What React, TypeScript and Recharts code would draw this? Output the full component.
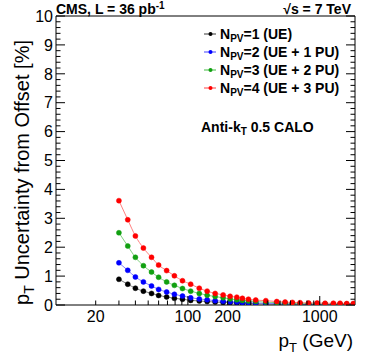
import { Line, LineChart, XAxis, YAxis } from "recharts";

// jet pT bin centres (GeV)
const PT = [
  30, 35, 40, 46, 53, 60, 69, 79, 91, 105, 122, 140, 161, 185, 209, 235, 259,
  288, 327, 390, 472, 546, 620, 709, 822, 954, 1097, 1268, 1425, 1601, 1797,
];

// offset uncertainty in %
const NPV1 = [
  0.89, 0.72, 0.58, 0.48, 0.4, 0.33, 0.28, 0.23, 0.2, 0.16, 0.14, 0.12, 0.1,
  0.09, 0.08, 0.07, 0.06, 0.05, 0.05, 0.04, 0.03, 0.03, 0.03, 0.02, 0.02, 0.02,
  0.02, 0.01, 0.01, 0.01, 0.01,
];
const NPV2 = [
  1.46, 1.2, 0.97, 0.8, 0.66, 0.54, 0.45, 0.37, 0.31, 0.25, 0.21, 0.18, 0.15,
  0.13, 0.11, 0.1, 0.09, 0.08, 0.07, 0.06, 0.05, 0.04, 0.04, 0.03, 0.03, 0.03,
  0.02, 0.02, 0.02, 0.02, 0.02,
];
const NPV3 = [
  2.5, 2.04, 1.65, 1.36, 1.14, 0.96, 0.8, 0.68, 0.57, 0.48, 0.4, 0.34, 0.29,
  0.25, 0.21, 0.18, 0.16, 0.14, 0.12, 0.1, 0.08, 0.07, 0.06, 0.05, 0.05, 0.04,
  0.04, 0.03, 0.03, 0.03, 0.03,
];
const NPV4 = [
  3.61, 2.95, 2.39, 1.97, 1.65, 1.38, 1.19, 1.01, 0.84, 0.72, 0.58, 0.48, 0.4,
  0.35, 0.3, 0.27, 0.23, 0.2, 0.17, 0.15, 0.12, 0.1, 0.09, 0.08, 0.07, 0.07,
  0.06, 0.06, 0.06, 0.05, 0.05,
];

const SERIES = [
  { key: "npv1", n: "1", tail: " (UE)", marker: "#000000", line: "#7a7a7a", vals: NPV1 },
  { key: "npv2", n: "2", tail: " (UE + 1 PU)", marker: "#0000ff", line: "#8080ff", vals: NPV2 },
  { key: "npv3", n: "3", tail: " (UE + 2 PU)", marker: "#11a011", line: "#80d080", vals: NPV3 },
  { key: "npv4", n: "4", tail: " (UE + 3 PU)", marker: "#ff0000", line: "#ff8080", vals: NPV4 },
];

const X_TICKS = [20, 30, 40, 50, 60, 70, 80, 90, 100, 200, 300, 400, 500, 600, 700, 800, 900, 1000];
const X_LABELS = [20, 100, 200, 1000];
const X_MAJOR = [100, 1000];
const Y_LABELS = [0, 1, 2, 3, 4, 5, 6, 7, 8, 9, 10];
const Y_TICKS = Array.from({ length: 51 }, (_, i) => Math.round(i * 2) / 10);

const FONT = '"Liberation Sans", Arial, Helvetica, sans-serif';

const rows = PT.map((pt, i) => {
  const r: Record<string, number> = { pt };
  SERIES.forEach((s) => (r[s.key] = s.vals[i]));
  return r;
});

const isInt = (v: number) => Math.abs(v - Math.round(v)) < 1e-6;

function XTick({ x, y, payload, top }: any) {
  const v = payload.value as number;
  const len = X_MAJOR.includes(v) ? 9 : 4.5;
  const dir = top ? 1 : -1;
  return (
    <g>
      <line x1={x} x2={x} y1={y} y2={y + dir * len} stroke="#000" />
      {!top && X_LABELS.includes(v) && (
        <text x={x} y={y + 17} textAnchor="middle" fontSize={16} fontFamily={FONT} fill="#000">
          {v}
        </text>
      )}
    </g>
  );
}

function YTick({ x, y, payload, right }: any) {
  const v = payload.value as number;
  const major = isInt(v);
  const len = major ? 9 : 4.5;
  const dir = right ? -1 : 1;
  return (
    <g>
      <line x1={x} x2={x + dir * len} y1={y} y2={y} stroke="#000" />
      {!right && major && Y_LABELS.includes(Math.round(v)) && (
        <text x={x - 3} y={y} dy="0.36em" textAnchor="end" fontSize={16} fontFamily={FONT} fill="#000">
          {Math.round(v)}
        </text>
      )}
    </g>
  );
}

const axisCommon = {
  tickSize: 0,
  tickMargin: 0,
  tickLine: false,
  interval: 0 as const,
  allowDataOverflow: true,
  axisLine: { stroke: "#000" },
};

export default function App() {
  return (
    <div style={{ position: "absolute", left: 0, top: 0, width: 374, height: 359, background: "#fff" }}>
      <LineChart width={374} height={359} data={rows} margin={{ top: 0, right: 0, bottom: 0, left: 0 }}>
        <XAxis
          {...axisCommon}
          xAxisId="b"
          dataKey="pt"
          type="number"
          scale="log"
          domain={[10, 1850]}
          ticks={X_TICKS}
          height={54}
          tick={<XTick />}
        />
        <XAxis
          {...axisCommon}
          xAxisId="t"
          orientation="top"
          type="number"
          scale="log"
          domain={[10, 1850]}
          ticks={X_TICKS}
          height={16}
          tick={<XTick top />}
        />
        <YAxis
          {...axisCommon}
          yAxisId="l"
          type="number"
          domain={[0, 10]}
          ticks={Y_TICKS}
          width={56}
          tick={<YTick />}
        />
        <YAxis
          {...axisCommon}
          yAxisId="r"
          orientation="right"
          type="number"
          domain={[0, 10]}
          ticks={Y_TICKS}
          width={19}
          tick={<YTick right />}
        />
        {SERIES.map((s) => (
          <Line
            key={s.key}
            xAxisId="b"
            yAxisId="l"
            dataKey={s.key}
            type="monotone"
            stroke={s.line}
            strokeWidth={1}
            dot={{ r: 2.5, fill: s.marker, stroke: s.marker, strokeWidth: 0.5 }}
            activeDot={false}
            isAnimationActive={false}
          />
        ))}
      </LineChart>
      <svg
        width={374}
        height={359}
        style={{ position: "absolute", left: 0, top: 0, pointerEvents: "none" }}
        fontFamily={FONT}
      >
        <text x={56} y={14} fontSize={14} fontWeight="bold">
          CMS, L = 36 pb
          <tspan fontSize={10} dy={-5}>-1</tspan>
        </text>
        <text x={351} y={14} fontSize={14} fontWeight="bold" textAnchor="end">
          √s = 7 TeV
        </text>
        {SERIES.map((s, i) => {
          const cy = 34 + i * 18;
          return (
            <g key={s.key}>
              <line x1={204} x2={216} y1={cy} y2={cy} stroke={s.line} strokeWidth={1.5} />
              <circle cx={210.5} cy={cy} r={2} fill={s.marker} />
              <text x={220} y={cy + 5} fontSize={14} fontWeight="bold">
                N
                <tspan fontSize={10} dy={3}>PV</tspan>
                <tspan dy={-3}>{"=" + s.n + s.tail}</tspan>
              </text>
            </g>
          );
        })}
        <text x={201} y={132} fontSize={14} fontWeight="bold">
          Anti-k
          <tspan fontSize={10} dy={3}>T</tspan>
          <tspan dy={-3}> 0.5 CALO</tspan>
        </text>
        <text x={353} y={347} fontSize={19} textAnchor="end">
          p
          <tspan fontSize={13} dy={5}>T</tspan>
          <tspan dy={-5}> (GeV)</tspan>
        </text>
        <text transform="translate(29,40) rotate(-90)" fontSize={20} textAnchor="end">
          p
          <tspan fontSize={14} dy={5}>T</tspan>
          <tspan dy={-5}> Uncertainty from Offset [%]</tspan>
        </text>
      </svg>
    </div>
  );
}
